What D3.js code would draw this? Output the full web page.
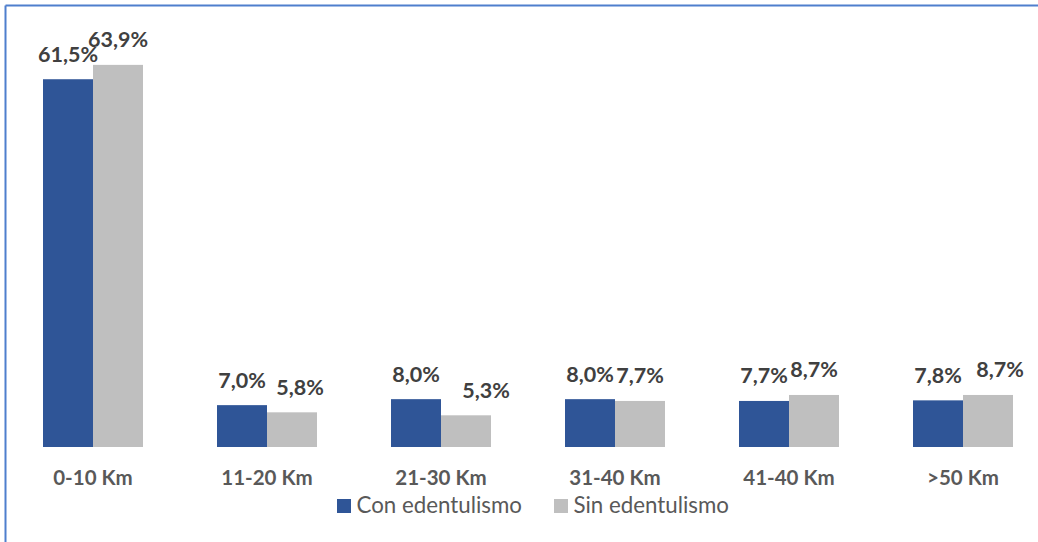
<!DOCTYPE html>
<html>
<head>
<meta charset="utf-8">
<script src="https://cdn.jsdelivr.net/npm/d3@7"></script>
<style>
  html, body { margin: 0; padding: 0; background: #fff; }
  svg { display: block; }
</style>
</head>
<body>
<svg id="chart" width="1038" height="542"></svg>
<script>
// Distance to care, by edentulism status (% of patients)
const categories = ["0-10 Km", "11-20 Km", "21-30 Km", "31-40 Km", "41-40 Km", ">50 Km"];
const conEdentulismo = [61.5, 7.0, 8.0, 8.0, 7.7, 7.8];
const sinEdentulismo = [63.9, 5.8, 5.3, 7.7, 8.7, 8.7];
const seriesNames = ["Con edentulismo", "Sin edentulismo"];
const seriesColors = ["#2f5597", "#bfbfbf"];

// horizontal nudges for the grey-bar labels so they clear their neighbours
const sinLabelShift = [0, 8, 20, 0, 0, 12];

const fmt = v => v.toFixed(1).replace(".", ",") + "%";

const svg = d3.select("#chart");
const W = 1038, H = 542;
const FONT = "Lato, 'Open Sans', sans-serif";

// frame lines (top and left)
svg.append("line").attr("x1", 5.5).attr("y1", 5.5).attr("x2", W).attr("y2", 5.5)
  .attr("stroke", "#4f7fcd").attr("stroke-width", 2);
svg.append("line").attr("x1", 5.5).attr("y1", 5.5).attr("x2", 5.5).attr("y2", H)
  .attr("stroke", "#4f7fcd").attr("stroke-width", 2);

const x = d3.scaleBand().domain(categories).range([6, 1050])
  .paddingInner(74 / 174).paddingOuter(37 / 174);
const xs = d3.scaleBand().domain([0, 1]).range([0, x.bandwidth()]);
const y = d3.scaleLinear().domain([0, 70]).range([447, 447 - 70 * 5.98]);

const rows = categories.map((c, i) => ({
  cat: c, i,
  vals: [conEdentulismo[i], sinEdentulismo[i]]
}));

const g = svg.append("g");
const grp = g.selectAll("g.cat").data(rows).join("g")
  .attr("transform", d => `translate(${x(d.cat)},0)`);

grp.selectAll("rect").data(d => d.vals.map((v, s) => ({ v, s }))).join("rect")
  .attr("x", d => xs(d.s))
  .attr("width", xs.bandwidth())
  .attr("y", d => y(d.v))
  .attr("height", d => y(0) - y(d.v))
  .attr("fill", d => seriesColors[d.s]);

// value labels
grp.selectAll("text.val").data(d => d.vals.map((v, s) => ({ v, s, i: d.i }))).join("text")
  .attr("class", "val")
  .attr("x", d => xs(d.s) + xs.bandwidth() / 2 + (d.s === 1 ? sinLabelShift[d.i] : 0))
  .attr("y", d => y(d.v) - 17.5)
  .attr("text-anchor", "middle")
  .attr("font-family", FONT)
  .attr("font-weight", "bold")
  .attr("font-size", 21.5)
  .attr("fill", "#404040")
  .text(d => fmt(d.v));

// category axis labels
const xAxis = d3.axisBottom(x).tickSize(0).tickPadding(0);
const ax = svg.append("g").attr("transform", "translate(0,447)").call(xAxis);
ax.select(".domain").remove();
ax.selectAll("text")
  .attr("dy", null)
  .attr("y", 38)
  .attr("font-family", FONT)
  .attr("font-weight", "bold")
  .attr("font-size", 20.5)
  .attr("fill", "#595959");

// legend
const legend = svg.append("g").attr("transform", "translate(337,499)");
const legX = [0, 217];
seriesNames.forEach((name, s) => {
  const lg = legend.append("g").attr("transform", `translate(${legX[s]},0)`);
  lg.append("rect").attr("width", 14).attr("height", 14).attr("fill", seriesColors[s]);
  lg.append("text").attr("x", 19.5).attr("y", 14)
    .attr("font-family", FONT)
    .attr("font-size", 22.3)
    .attr("fill", "#595959")
    .text(name);
});
</script>
</body>
</html>
